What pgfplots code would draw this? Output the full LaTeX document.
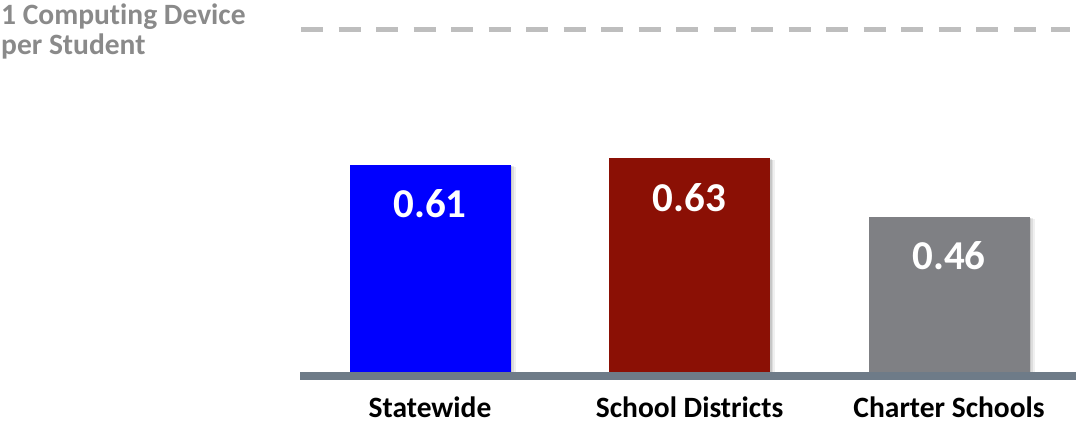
\documentclass[border=0pt]{standalone}
\usepackage{pgfplots}
\pgfplotsset{compat=1.18}
\usepackage{fontspec}
\setmainfont{Carlito}[RawFeature={-liga;-clig;-dlig;-calt}]
\usetikzlibrary{shadows}
\definecolor{cblue}{RGB}{0,0,255}
\definecolor{cred}{RGB}{139,16,5}
\definecolor{cgray}{RGB}{127,128,132}
\definecolor{cbase}{RGB}{110,123,136}
\definecolor{cdash}{RGB}{190,190,190}
\definecolor{ctitle}{RGB}{138,138,138}
\tikzset{softshadow/.style={
  drop shadow={shadow xshift=1.5pt, shadow yshift=-1pt, fill=black, opacity=0.10},
  drop shadow={shadow xshift=3pt, shadow yshift=-1.5pt, fill=black, opacity=0.08},
  drop shadow={shadow xshift=5pt, shadow yshift=-2pt, fill=black, opacity=0.06}}}
\begin{document}
\begin{tikzpicture}
\useasboundingbox (0pt,0pt) rectangle (1076pt,427pt);
\node[anchor=base west,inner sep=0pt,text=ctitle,font=\fontsize{29.5}{31}\selectfont\bfseries] at (1pt,402pt) {1 Computing Device};
\node[anchor=base west,inner sep=0pt,text=ctitle,font=\fontsize{29.5}{31}\selectfont\bfseries] at (1pt,372pt) {per Student};
\begin{axis}[
  at={(300pt,51pt)}, anchor=south west,
  scale only axis, width=776pt, height=363.3pt,
  xmin=-0.501, xmax=2.489, ymin=0, ymax=1.05,
  clip=false,
  axis line style={draw=none},
  major tick length=0pt,
  ytick=\empty,
  xtick={0,1,2},
  xticklabels={Statewide,School Districts,Charter Schools},
  xticklabel style={anchor=base, yshift=-42pt, inner sep=0pt, text depth=0pt, font=\fontsize{29.5}{31}\selectfont\bfseries, text=black},
  every node near coord/.append style={anchor=base, yshift=-53pt, text=white, font=\fontsize{41}{44}\selectfont\bfseries},
  nodes near coords,
  /pgf/number format/assume math mode=true,
  /pgf/number format/fixed, /pgf/number format/fixed zerofill, /pgf/number format/precision=2,
]
\addplot[ybar, bar width=161pt, fill=cblue, draw=none, softshadow] coordinates {(0,0.61)};
\addplot[ybar, bar width=161pt, fill=cred, draw=none, softshadow] coordinates {(1,0.63)};
\addplot[ybar, bar width=161pt, fill=cgray, draw=none, softshadow] coordinates {(2,0.46)};
\addplot[nodes near coords={}, draw=cbase, line width=8pt, mark=none] coordinates {(-0.501,0) (2.489,0)};
\addplot[nodes near coords={}, draw=cdash, line width=5pt, mark=none, dash pattern=on 22pt off 15.5pt] coordinates {(-0.497,1) (2.467,1)};
\end{axis}
\end{tikzpicture}
\end{document}
